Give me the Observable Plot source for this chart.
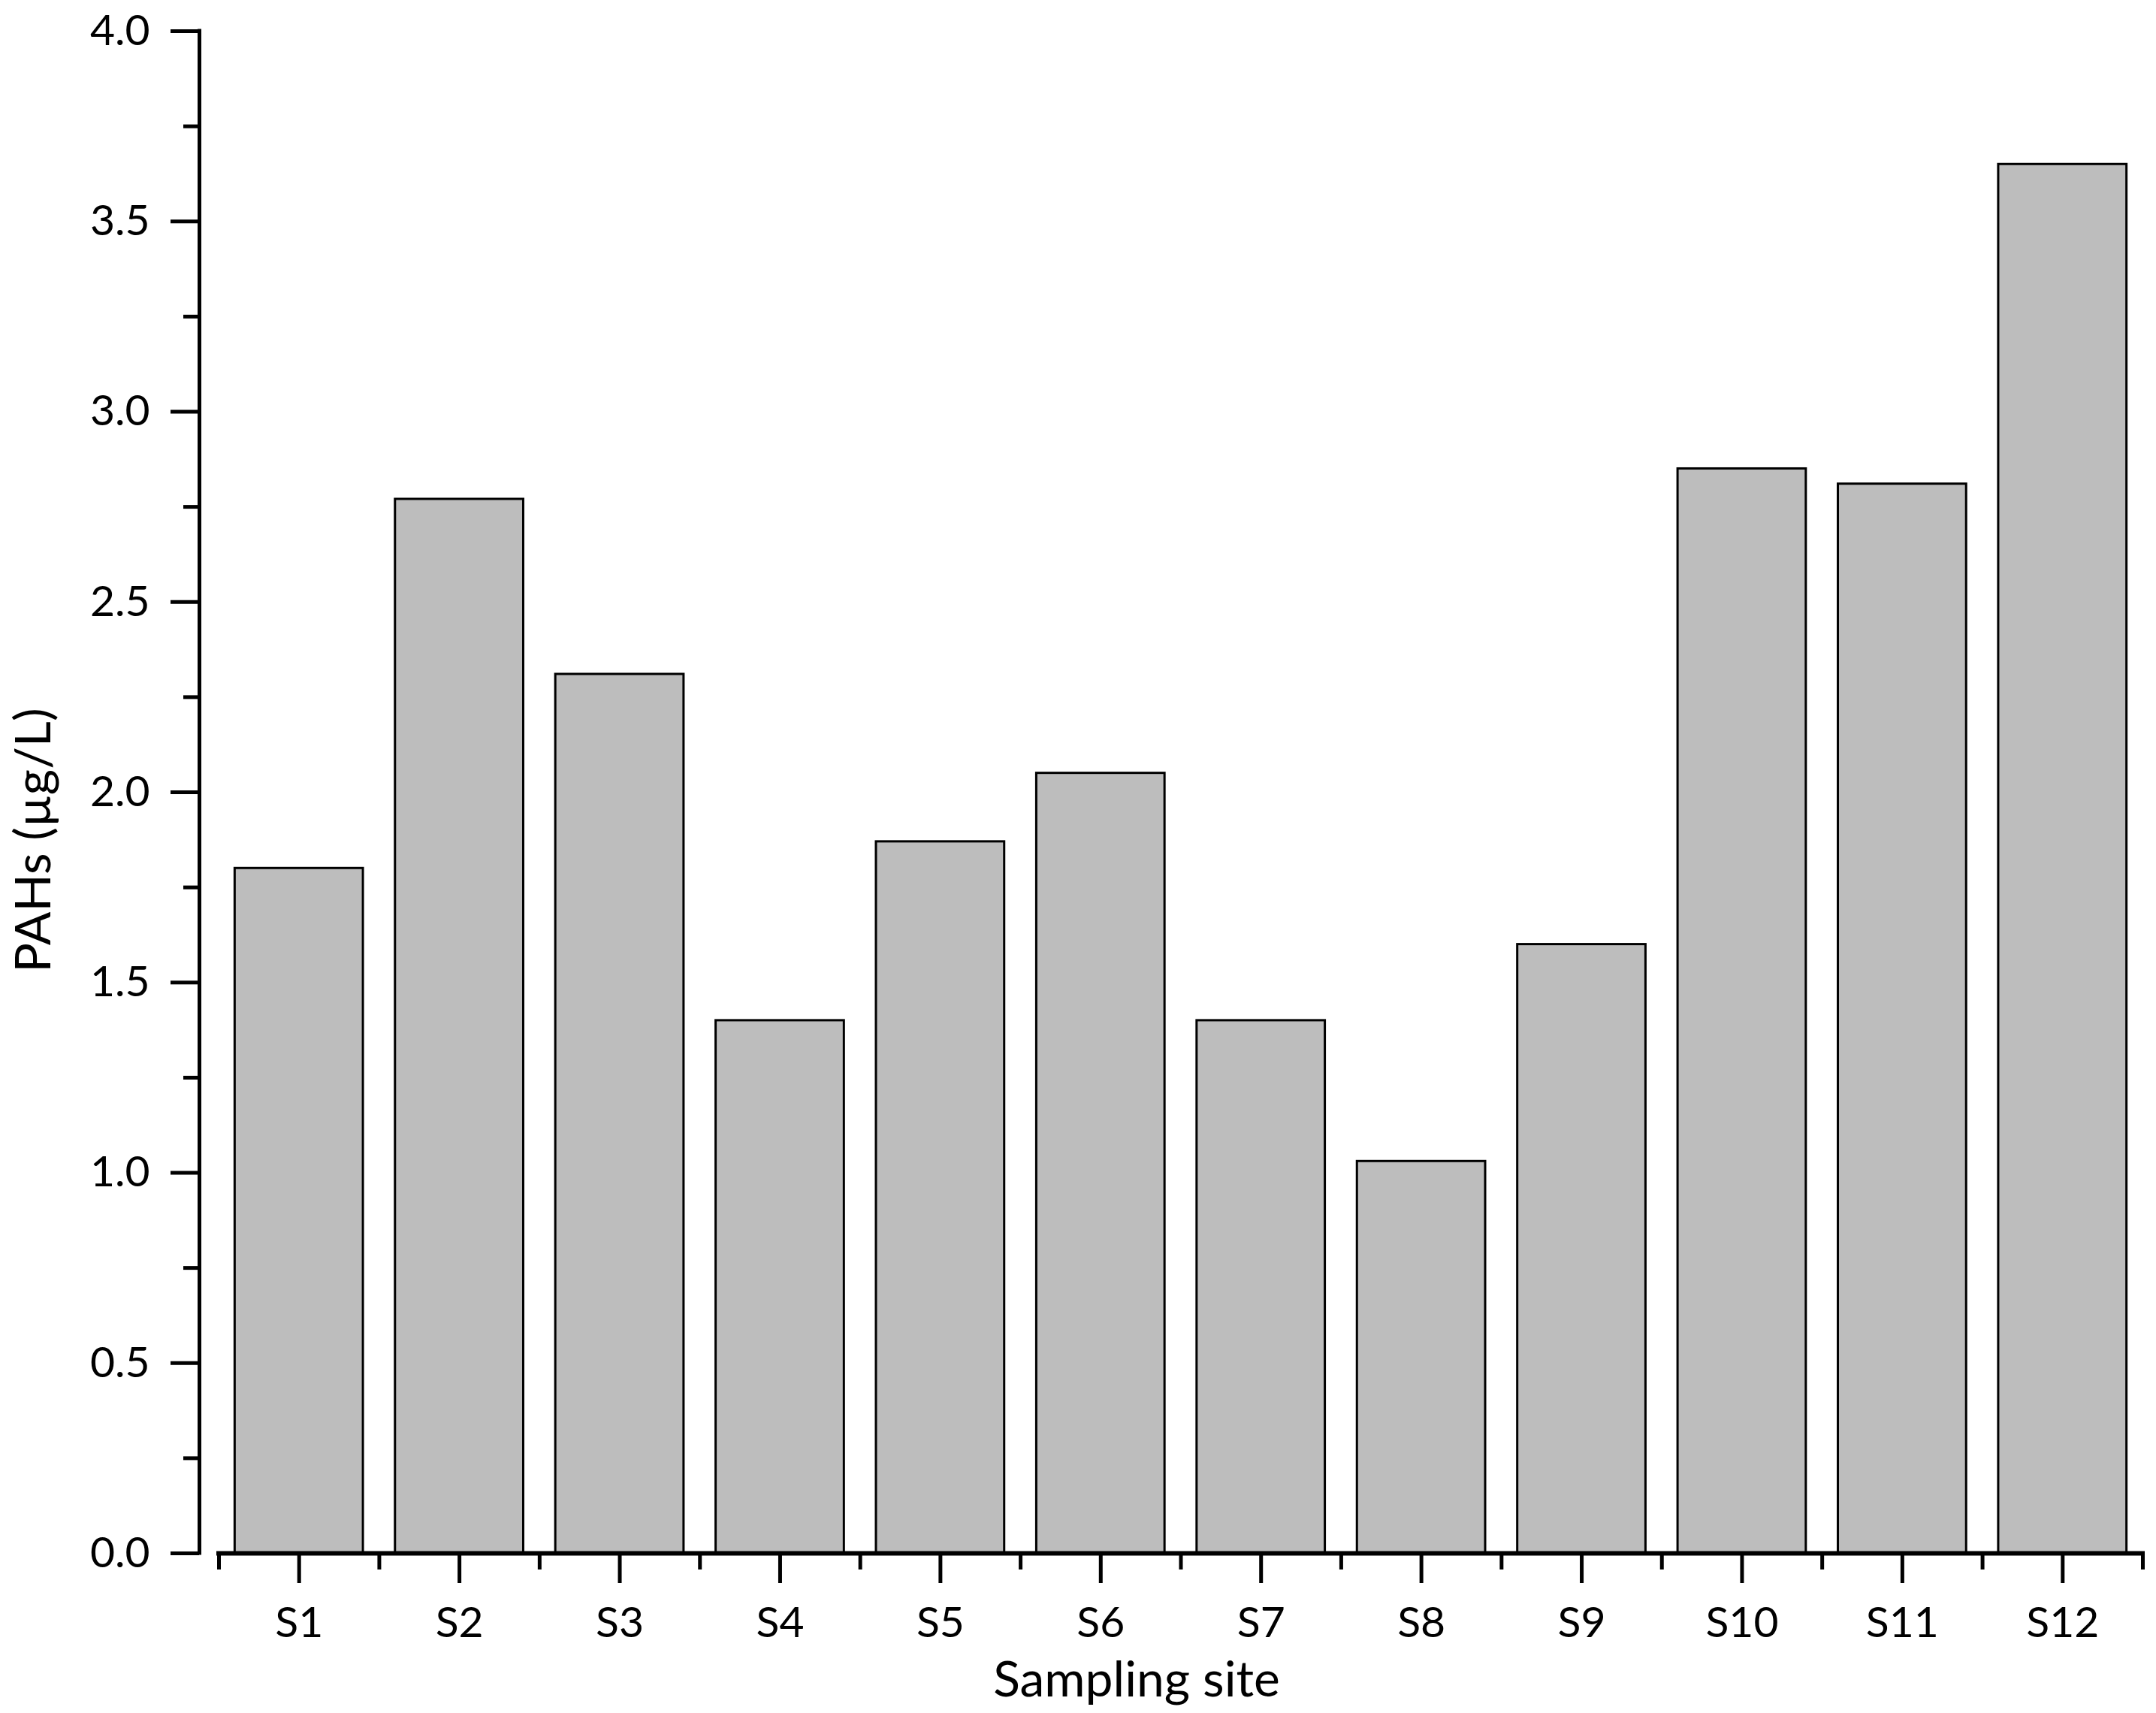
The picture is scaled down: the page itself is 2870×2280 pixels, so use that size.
<!DOCTYPE html>
<html>
<head>
<meta charset="utf-8">
<script src="https://cdn.jsdelivr.net/npm/d3@7"></script>
<script src="https://cdn.jsdelivr.net/npm/@observablehq/plot@0.6"></script>
<style>
  html, body { margin: 0; padding: 0; background: #ffffff; }
  svg { display: block; }
</style>
</head>
<body>
<div id="chart"></div>
<script>
const sites = ["S1", "S2", "S3", "S4", "S5", "S6", "S7", "S8", "S9", "S10", "S11", "S12"];
const values = [1.80, 2.77, 2.31, 1.40, 1.87, 2.05, 1.40, 1.03, 1.60, 2.85, 2.81, 3.65];
const yMajorTicks = [0, 0.5, 1.0, 1.5, 2.0, 2.5, 3.0, 3.5, 4.0];
const yMinorTicks = [0.25, 0.75, 1.25, 1.75, 2.25, 2.75, 3.25, 3.75];
const xLabel = "Sampling site";
const yLabel = "PAHs (µg/L)";

const data = sites.map((s, i) => ({site: s, pos: i + 1, value: values[i]}));
const positions = sites.map((s, i) => i + 1);
const boundaries = d3.range(0, sites.length + 1).map(i => i + 0.5);

const W = 2870, H = 2280, mL = 265, mR = 18, mT = 41, mB = 213;
const frameW = W - mL - mR;
const axisGap = 26;
const majorLen = 38, minorLen = 21, tickW = 5;

const chart = Plot.plot({
  width: W,
  height: H,
  marginLeft: mL,
  marginRight: mR,
  marginTop: mT,
  marginBottom: mB,
  style: {background: "#ffffff", fontFamily: "Lato, 'Open Sans', sans-serif", fontSize: "57px", color: "#000000"},
  x: {
    type: "linear",
    domain: [0.5, sites.length + 0.5],
    insetLeft: axisGap,
    ticks: positions,
    tickFormat: d => sites[d - 1],
    tickSize: 0,
    tickPadding: 71,
    label: null
  },
  y: {
    domain: [0, 4],
    ticks: yMajorTicks,
    tickFormat: d3.format(".1f"),
    tickSize: 0,
    tickPadding: 66,
    label: null
  },
  marks: [
    Plot.rectY(data, {
      x1: d => d.pos - 0.4,
      x2: d => d.pos + 0.4,
      y: "value",
      fill: "#bdbdbd",
      stroke: "#000000",
      strokeWidth: 3
    }),
    // y axis line (at the frame's left edge)
    Plot.ruleX([0.5], {y1: 0, y2: 4, dx: -axisGap, stroke: "#000000", strokeWidth: tickW, strokeLinecap: "square"}),
    // x axis line
    Plot.ruleY([0], {x1: 0.5, x2: sites.length + 0.5, stroke: "#000000", strokeWidth: 6, strokeLinecap: "square"}),
    // y ticks (outward, left)
    Plot.ruleY(yMajorTicks, {insetLeft: -majorLen, insetRight: frameW, stroke: "#000000", strokeWidth: tickW}),
    Plot.ruleY(yMinorTicks, {insetLeft: -minorLen, insetRight: frameW, stroke: "#000000", strokeWidth: tickW}),
    // x ticks (outward, down)
    Plot.ruleX(positions, {y1: 0, y2: 0, insetTop: 40, insetBottom: 0, stroke: "#000000", strokeWidth: tickW}),
    Plot.ruleX(boundaries, {y1: 0, y2: 0, insetTop: 22, insetBottom: 0, stroke: "#000000", strokeWidth: tickW}),
    Plot.text([yLabel], {frameAnchor: "left", rotate: -90, dx: -220, dy: 64, textAnchor: "middle", lineAnchor: "middle", fontSize: 66}),
    Plot.text([xLabel], {frameAnchor: "bottom", dx: -46, dy: 169, textAnchor: "middle", lineAnchor: "middle", fontSize: 66})
  ]
});
document.getElementById("chart").appendChild(chart);
</script>
</body>
</html>
